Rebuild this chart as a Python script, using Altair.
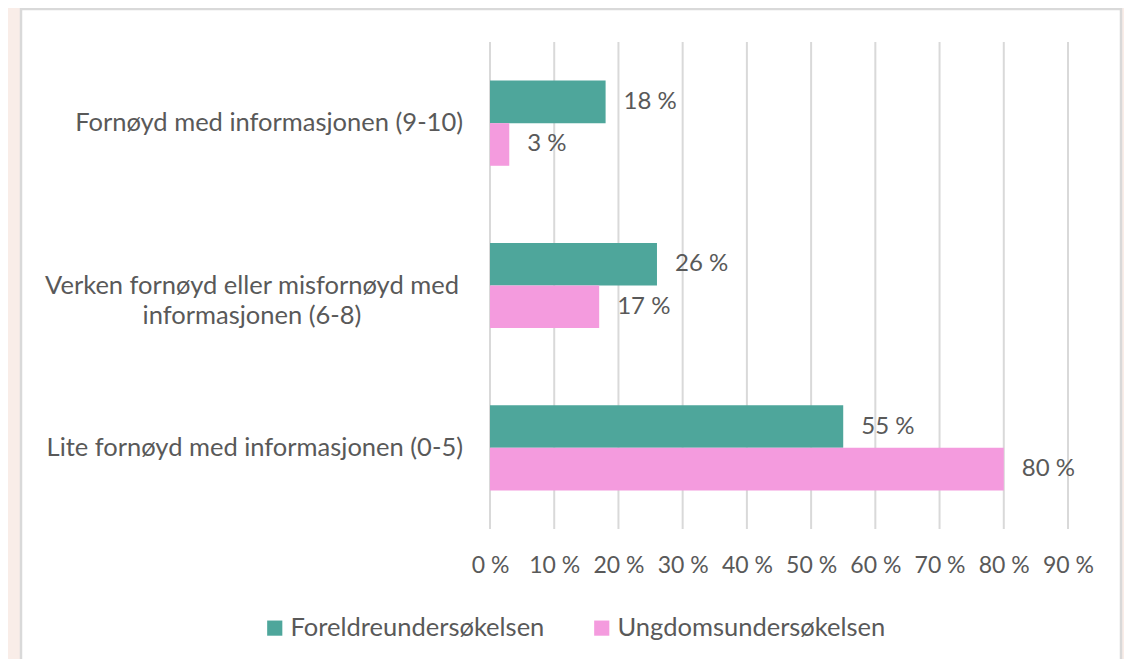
import altair as alt
import pandas as pd

categories = [
    "Fornøyd med informasjonen (9-10)",
    "Verken fornøyd eller misfornøyd med informasjonen (6-8)",
    "Lite fornøyd med informasjonen (0-5)",
]
category_labels = [
    "Fornøyd med informasjonen (9-10)",
    "Verken fornøyd eller misfornøyd med\ninformasjonen (6-8)",
    "Lite fornøyd med informasjonen (0-5)",
]
series = ["Foreldreundersøkelsen", "Ungdomsundersøkelsen"]
foreldre = [18, 26, 55]
ungdom = [3, 17, 80]
x_ticks = [0, 10, 20, 30, 40, 50, 60, 70, 80, 90]
colors = ["#4EA69B", "#F49BDE"]

FONT = "Lato"
TXT = "#595959"
CAT_FS = 25.5
NUM_FS = 24

rows = []
for c, f, u in zip(categories, foreldre, ungdom):
    rows.append({"category": c, "series": series[0], "value": f, "label": f"{f} %"})
    rows.append({"category": c, "series": series[1], "value": u, "label": f"{u} %"})
df = pd.DataFrame(rows)

lab_df = pd.DataFrame({"category": categories, "label": category_labels})
tick_df = pd.DataFrame({"tick": x_ticks})

y_enc = alt.Y("category:N", sort=categories, axis=None,
              scale=alt.Scale(paddingInner=0.475, paddingOuter=0.2375))
x_scale = alt.Scale(domain=[0, 90], nice=False)

panel = alt.Chart(pd.DataFrame({"a": [0]})).mark_rect(
    fill="white", stroke="#D9D9D9", strokeWidth=2.5
).encode(
    x=alt.value(-469), x2=alt.value(631), y=alt.value(-33), y2=alt.value(720)
)

grid = alt.Chart(tick_df).mark_rule(color="#D9D9D9", strokeWidth=2).encode(
    x=alt.X("tick:Q", scale=x_scale,
            axis=alt.Axis(values=x_ticks, labelExpr="datum.value + ' %'",
                          domain=False, ticks=False, grid=False, title=None,
                          labelFont=FONT, labelFontSize=23, labelColor=TXT,
                          labelPadding=25, labelOverlap=False, labelBound=False,
                          labelFlush=False, zindex=1)),
    y=alt.value(0), y2=alt.value(487),
)

bars = alt.Chart(df).mark_bar().encode(
    x=alt.X("value:Q", scale=x_scale, title=None),
    y=y_enc,
    yOffset=alt.YOffset("series:N", sort=series, scale=alt.Scale(paddingInner=0, paddingOuter=0)),
    color=alt.Color("series:N", sort=series,
                    scale=alt.Scale(domain=series, range=colors),
                    legend=alt.Legend(title=None, orient="none", direction="horizontal",
                                      legendX=-228, legendY=573,
                                      symbolType="square", symbolSize=230,
                                      symbolStrokeWidth=0, symbolOpacity=1,
                                      labelFont=FONT, labelFontSize=CAT_FS, labelColor=TXT,
                                      labelLimit=0, labelOffset=3, columnPadding=44,
                                      zindex=1)),
)

values = alt.Chart(df).mark_text(
    align="left", baseline="middle", dx=18, font=FONT, fontSize=NUM_FS, color=TXT
).encode(
    x=alt.X("value:Q", scale=x_scale),
    y=y_enc,
    yOffset=alt.YOffset("series:N", sort=series),
    text="label:N",
)

ylab_right = alt.Chart(lab_df).transform_filter(
    alt.FieldOneOfPredicate(field="category", oneOf=[categories[0], categories[2]])
).mark_text(
    align="right", baseline="middle", font=FONT, fontSize=CAT_FS, color=TXT
).encode(y=y_enc, x=alt.value(-27), text="label:N")

ylab_center = alt.Chart(lab_df).transform_filter(
    alt.FieldEqualPredicate(field="category", equal=categories[1])
).mark_text(
    align="center", baseline="middle", font=FONT, fontSize=CAT_FS, color=TXT,
    lineBreak="\n", lineHeight=30
).encode(y=y_enc, x=alt.value(-238), text="label:N")

chart = alt.layer(panel, grid, bars, values, ylab_right, ylab_center).properties(
    width=578, height=487,
    autosize=alt.AutoSizeParams(type="none"),
    padding={"left": 482, "top": 34, "right": 56, "bottom": 130},
    background="#F9EDE8",
).configure_view(stroke=None)

chart.save("out.html", embed_options={"renderer": "svg", "actions": False})
